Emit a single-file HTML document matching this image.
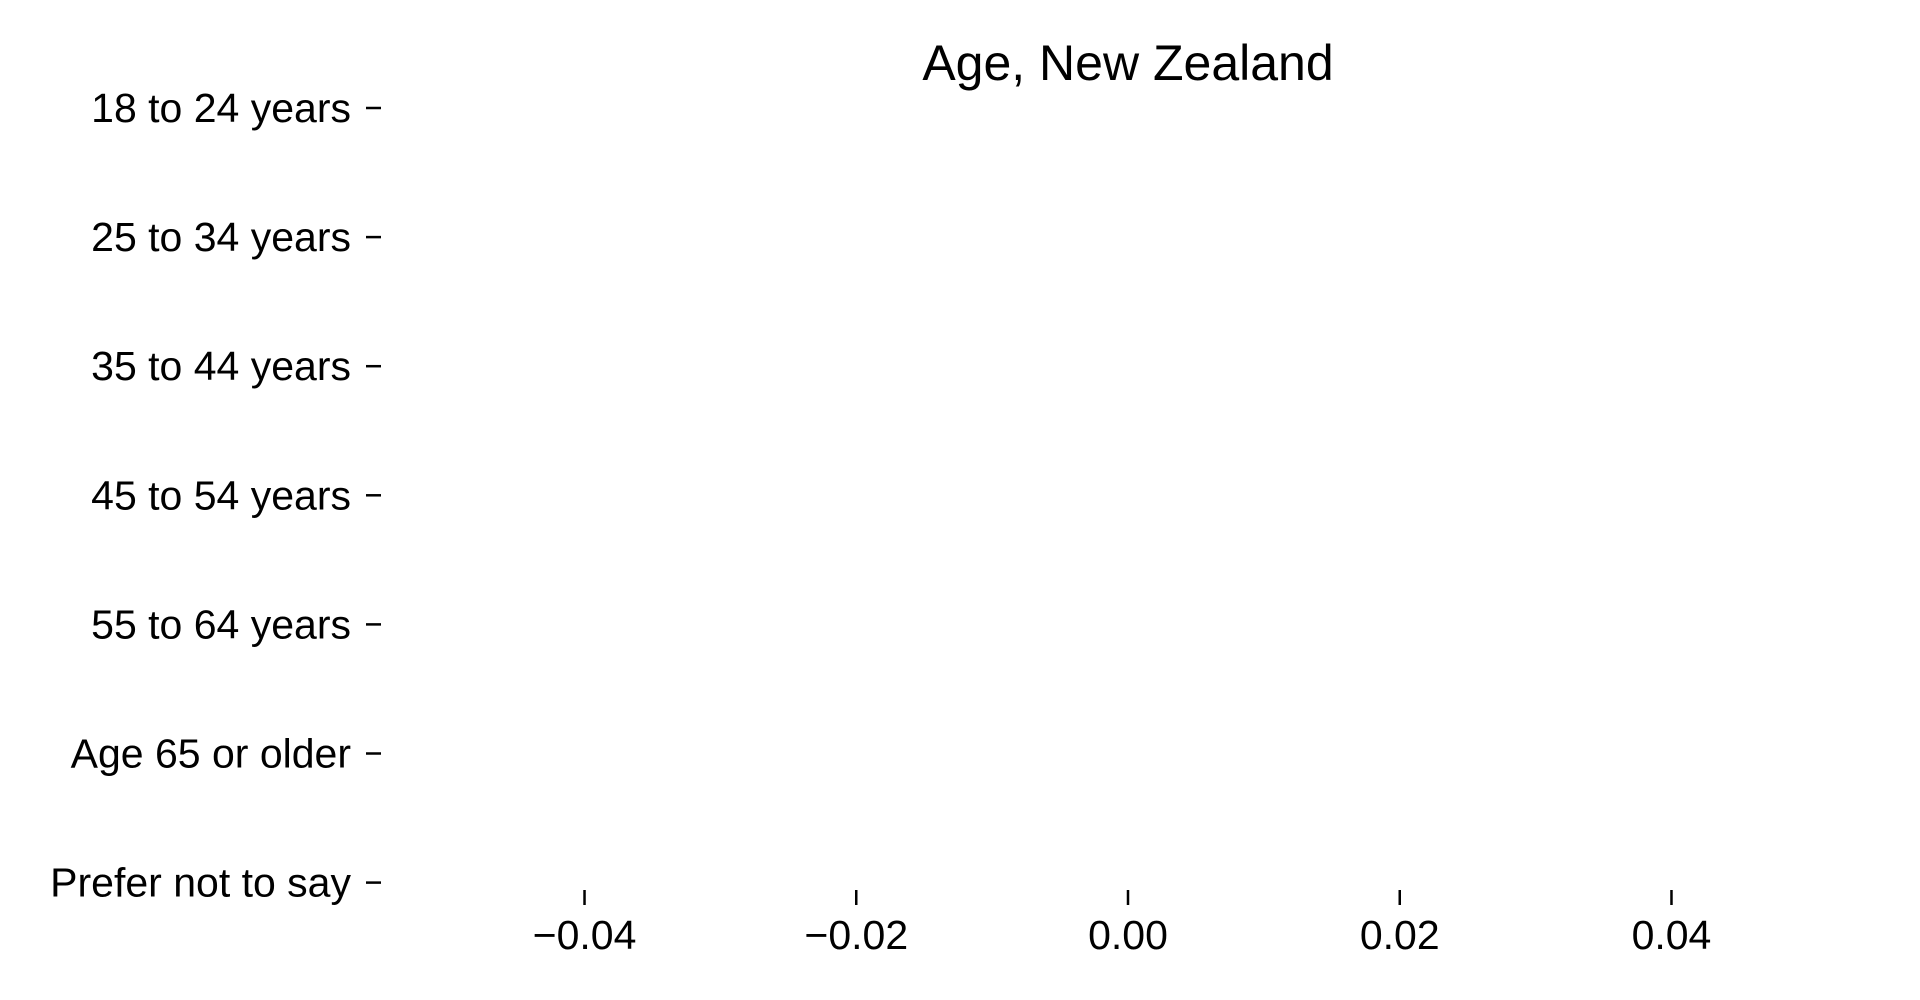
<!DOCTYPE html>
<html><head><meta charset="utf-8"><style>
html,body{margin:0;padding:0;background:#fff;}
svg{display:block;font-family:"Liberation Sans",Arial,sans-serif;}
</style></head><body>
<svg id="chart" width="1920" height="1000" viewBox="0 0 1920 1000">
<text x="1128" y="80" font-size="50" text-anchor="middle" fill="#000">Age, New Zealand</text>
<g id="yaxis"></g>
<g id="xaxis"></g>
<g id="bars"></g>
</svg>
<script>
const categories = ["18 to 24 years","25 to 34 years","35 to 44 years","45 to 54 years","55 to 64 years","Age 65 or older","Prefer not to say"];
const values = [0,0,0,0,0,0,0];
const xTicks = [-0.04,-0.02,0,0.02,0.04];
const xTickLabels = ["\u22120.04","\u22120.02","0.00","0.02","0.04"];

const NS = "http://www.w3.org/2000/svg";
function xScale(v){ return 1128 + v * 13587; }
function yScale(i){ return 108 + i * 129.1; }

const yaxis = document.getElementById('yaxis');
const xaxis = document.getElementById('xaxis');
const bars = document.getElementById('bars');

categories.forEach((c,i)=>{
  const y = yScale(i);
  const t = document.createElementNS(NS,'text');
  
  
  t.setAttribute('x',351); t.setAttribute('y',y+14);
  t.setAttribute('font-size','41'); t.setAttribute('text-anchor','end');
  t.textContent = c; yaxis.appendChild(t);
  const l = document.createElementNS(NS,'line');
  
  
  l.setAttribute('x1',366); l.setAttribute('x2',381);
  l.setAttribute('y1',y); l.setAttribute('y2',y);
  l.setAttribute('stroke','#000'); l.setAttribute('stroke-width','2.5');
  yaxis.appendChild(l);
  const r = document.createElementNS(NS,'rect');
  
  
  const x0 = xScale(0), x1 = xScale(values[i]);
  r.setAttribute('x',Math.min(x0,x1)); r.setAttribute('width',Math.abs(x1-x0));
  r.setAttribute('y',y-45); r.setAttribute('height',90);
  r.setAttribute('fill','#1f77b4');
  bars.appendChild(r);
});

xTicks.forEach((v,i)=>{
  const x = xScale(v);
  const l = document.createElementNS(NS,'line');
  
  
  l.setAttribute('x1',x); l.setAttribute('x2',x);
  l.setAttribute('y1',890); l.setAttribute('y2',905);
  l.setAttribute('stroke','#000'); l.setAttribute('stroke-width','2.5');
  xaxis.appendChild(l);
  const t = document.createElementNS(NS,'text');
  
  
  t.setAttribute('x',x); t.setAttribute('y',949);
  t.setAttribute('font-size','41'); t.setAttribute('text-anchor','middle');
  t.textContent = xTickLabels[i]; xaxis.appendChild(t);
});
</script>
</body></html>
